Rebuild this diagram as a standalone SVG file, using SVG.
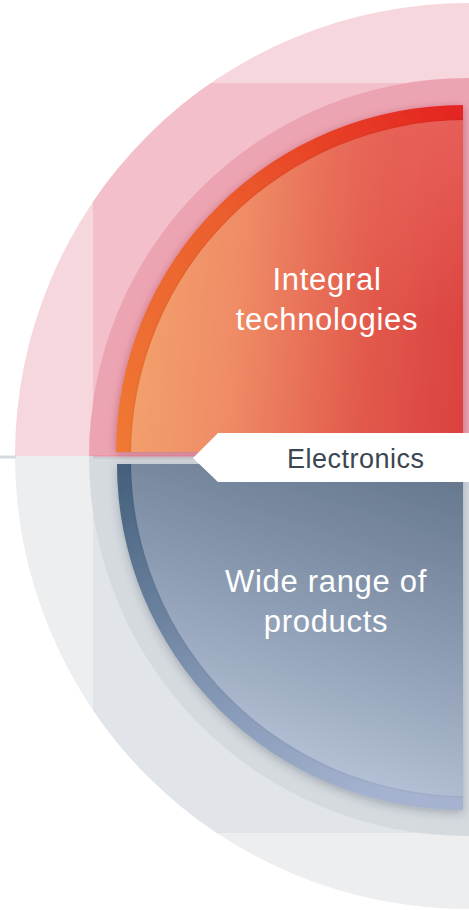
<svg xmlns="http://www.w3.org/2000/svg" width="469" height="910" viewBox="0 0 469 910">
<defs>
<style>
.lbl{font-family:"Liberation Sans",Arial,Helvetica,sans-serif;font-size:31px;fill:#ffffff;text-anchor:middle;letter-spacing:0.7px}
.elec{font-family:"Liberation Sans",Arial,Helvetica,sans-serif;font-size:27px;fill:#3B4650;letter-spacing:0.5px}
</style>
<clipPath id="clipTop"><rect x="0" y="0" width="469" height="456"/></clipPath>
<clipPath id="clipBot"><rect x="0" y="456" width="469" height="454"/></clipPath>
<clipPath id="clipOuter"><circle cx="468" cy="456" r="453"/></clipPath>
<clipPath id="clipRed"><path d="M463,452 L116,452 A347,347 0 0 1 463,105 Z"/></clipPath>
<clipPath id="clipBlue"><path d="M463,464 L117,464 A346,346 0 0 0 463,810 Z"/></clipPath>
<linearGradient id="redBand" gradientUnits="userSpaceOnUse" x1="116" y1="452" x2="463" y2="105">
<stop offset="0" stop-color="#EF7934"/>
<stop offset="0.5" stop-color="#EB5E2D"/>
<stop offset="1" stop-color="#E42421"/>
</linearGradient>
<linearGradient id="redFace" gradientUnits="userSpaceOnUse" x1="135" y1="330" x2="463" y2="360">
<stop offset="0" stop-color="#F3A06D"/>
<stop offset="0.3" stop-color="#EF8C66"/>
<stop offset="0.7" stop-color="#E25A4C"/>
<stop offset="1" stop-color="#DB4340"/>
</linearGradient>
<radialGradient id="redGlow" gradientUnits="userSpaceOnUse" cx="460" cy="120" r="200">
<stop offset="0" stop-color="#F07068" stop-opacity="0.55"/>
<stop offset="1" stop-color="#F07068" stop-opacity="0"/>
</radialGradient>
<linearGradient id="blueBand" gradientUnits="userSpaceOnUse" x1="117" y1="464" x2="360" y2="810">
<stop offset="0" stop-color="#435E7B"/>
<stop offset="0.5" stop-color="#7D92AF"/>
<stop offset="1" stop-color="#A5B3D0"/>
</linearGradient>
<linearGradient id="blueFace" gradientUnits="userSpaceOnUse" x1="440" y1="480" x2="340" y2="800">
<stop offset="0" stop-color="#67798F"/>
<stop offset="0.5" stop-color="#8D9DB3"/>
<stop offset="1" stop-color="#B9C5DA"/>
</linearGradient>
<filter id="shR" x="-10%" y="-10%" width="120%" height="120%">
<feDropShadow dx="0" dy="2" stdDeviation="5" flood-color="#6A2335" flood-opacity="0.35"/>
</filter>
<filter id="shB" x="-10%" y="-10%" width="120%" height="120%">
<feDropShadow dx="0" dy="3" stdDeviation="5" flood-color="#2A3644" flood-opacity="0.3"/>
</filter>
<filter id="shF" x="-10%" y="-10%" width="120%" height="120%">
<feDropShadow dx="0" dy="0" stdDeviation="1.5" flood-color="#000000" flood-opacity="0.12"/>
</filter>
</defs>

<g id="background">
<g clip-path="url(#clipTop)">
<circle cx="468" cy="456" r="453" fill="#F7D7DE"/>
<rect x="93" y="83" width="376" height="373" fill="#F2BFCA" clip-path="url(#clipOuter)"/>
<circle cx="468" cy="457" r="379" fill="#EDA4B2"/>
</g>
<g clip-path="url(#clipBot)">
<circle cx="468" cy="456" r="453" fill="#EDEEF0"/>
<rect x="93" y="456" width="376" height="377" fill="#E1E4E8" clip-path="url(#clipOuter)"/>
<circle cx="468" cy="457" r="379" fill="#D5DADF"/>
</g>
</g>

<g id="connectors">
<line x1="0" y1="457" x2="16" y2="457" stroke="#D3DAE0" stroke-width="3"/>
<line x1="93" y1="456" x2="196" y2="456" stroke="#E8899B" stroke-width="1"/>
<line x1="93" y1="458" x2="196" y2="458" stroke="#C9D0D6" stroke-width="2"/>
</g>

<g id="integral">
<g filter="url(#shR)">
<path d="M463,452 L116,452 A347,347 0 0 1 463,105 Z" fill="url(#redBand)"/>
</g>
<g clip-path="url(#clipRed)">
<g filter="url(#shF)">
<circle cx="467" cy="456" r="336" fill="url(#redFace)"/>
</g>
<circle cx="467" cy="456" r="336" fill="url(#redGlow)"/>
</g>
<text class="lbl" x="327" y="290">Integral</text>
<text class="lbl" x="327" y="330">technologies</text>
</g>

<g id="products">
<g filter="url(#shB)">
<path d="M463,464 L117,464 A346,346 0 0 0 463,810 Z" fill="url(#blueBand)"/>
</g>
<g clip-path="url(#clipBlue)">
<g filter="url(#shF)">
<circle cx="467" cy="460" r="336" fill="url(#blueFace)"/>
</g>
</g>
<text class="lbl" x="326" y="592">Wide range of</text>
<text class="lbl" x="326" y="632">products</text>
</g>

<g id="electronics">
<polygon points="193,458 218,433 469,433 469,482 218,482" fill="#FFFFFF"/>
<text class="elec" x="287" y="468">Electronics</text>
</g>
</svg>
